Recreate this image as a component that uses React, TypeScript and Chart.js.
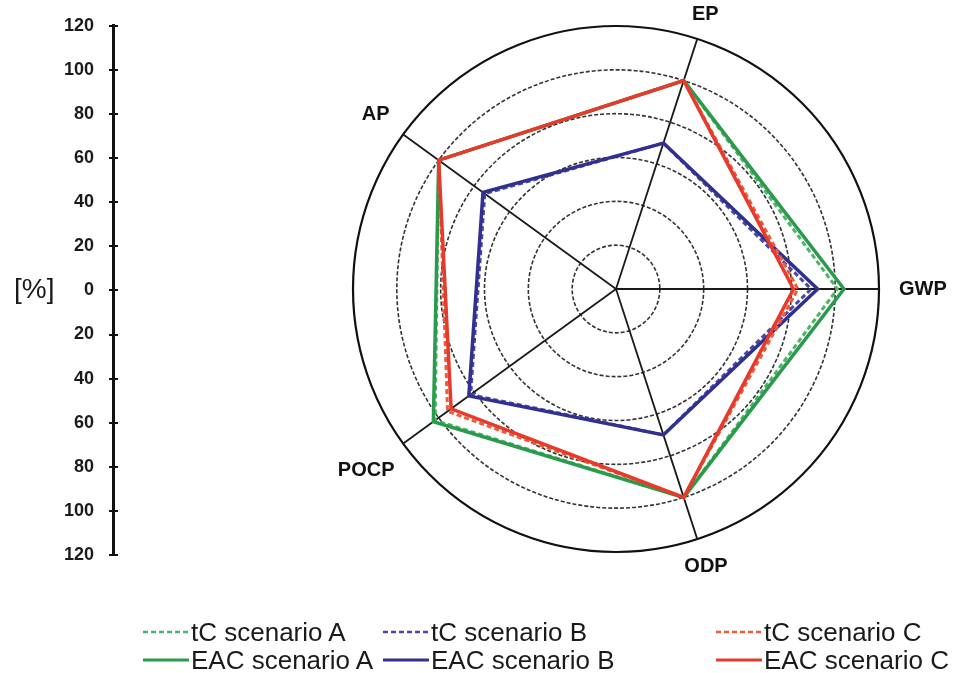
import React, { useEffect, useRef } from 'react';
import { Chart, registerables } from 'chart.js';

Chart.register(...registerables);

// ---- data ----
const categories = ['EP', 'GWP', 'ODP', 'POCP', 'AP'];
const tcScenarioA = [100, 101, 100, 102, 100];
const tcScenarioB = [70, 89, 70, 82, 74];
const tcScenarioC = [100, 83, 100, 95, 100];
const eacScenarioA = [100, 104, 100, 103, 100];
const eacScenarioB = [70, 92, 70, 83, 75];
const eacScenarioC = [100, 81, 100, 93, 100];
const seriesLabels = ['tC scenario A', 'tC scenario B', 'tC scenario C', 'EAC scenario A', 'EAC scenario B', 'EAC scenario C'];
const rMax = 120;
const rStep = 20;
const sideAxisMin = -120;
const sideAxisMax = 120;
const sideAxisStep = 20;
const unitLabel = '[%]';

const FONT = '"Liberation Sans", Arial, Helvetica, sans-serif';

const seriesStyles = [
  { color: '#4cb56a', dashed: true, order: 5 },
  { color: '#4a48a6', dashed: true, order: 3 },
  { color: '#ee5b3c', dashed: true, order: 1 },
  { color: '#2a9a4c', dashed: false, order: 4 },
  { color: '#30308f', dashed: false, order: 2 },
  { color: '#e83a2a', dashed: false, order: 0 },
];
const seriesValues = [tcScenarioA, tcScenarioB, tcScenarioC, eacScenarioA, eacScenarioB, eacScenarioC];

const pointLabelPlugin = {
  id: 'customPointLabels',
  afterDatasetsDraw(chart: any) {
    const scale = chart.scales.r;
    const ctx = chart.ctx;
    ctx.save();
    ctx.font = `bold 20px ${FONT}`;
    ctx.fillStyle = '#111';
    ctx.textAlign = 'center';
    ctx.textBaseline = 'middle';
    const labels: string[] = chart.data.labels;
    labels.forEach((label, i) => {
      const angle = scale.getIndexAngle(i);
      const w = ctx.measureText(label).width;
      const h = 15;
      const d = scale.drawingArea + 12 + Math.abs(Math.sin(angle)) * (w / 2 + 8) + Math.abs(Math.cos(angle)) * h / 2;
      const p = scale.getPointPosition(i, d);
      ctx.fillText(label, p.x, p.y);
    });
    ctx.restore();
  },
};

export default function App() {
  const radarRef = useRef<HTMLCanvasElement | null>(null);
  const axisRef = useRef<HTMLCanvasElement | null>(null);

  useEffect(() => {
    const radar = new Chart(radarRef.current as HTMLCanvasElement, {
      type: 'radar',
      data: {
        labels: categories,
        datasets: seriesValues.map((vals, i) => ({
          label: seriesLabels[i],
          data: vals,
          borderColor: seriesStyles[i].color,
          backgroundColor: 'transparent',
          borderWidth: seriesStyles[i].dashed ? 3 : 3.5,
          borderDash: seriesStyles[i].dashed ? [5, 3] : [],
          pointRadius: 0,
          pointHoverRadius: 0,
          fill: false,
          tension: 0,
          order: seriesStyles[i].order,
        })),
      },
      options: {
        animation: false,
        responsive: false,
        maintainAspectRatio: false,
        layout: { padding: { left: 353, top: 26, right: 91, bottom: 121 } },
        plugins: { legend: { display: false }, tooltip: { enabled: false } },
        scales: {
          r: {
            min: 0,
            max: rMax,
            startAngle: 18,
            ticks: { display: false, stepSize: rStep },
            pointLabels: { display: false },
            angleLines: { color: '#1a1a1a', lineWidth: 1.8 },
            grid: {
              circular: true,
              color: (c: any) => (c.tick && c.tick.value === rMax ? '#111' : '#333'),
              lineWidth: (c: any) => (c.tick && c.tick.value === rMax ? 2.2 : 1.6),
            },
            border: {
              dash: (c: any) => (c.tick && c.tick.value === rMax ? [] : [4, 2]),
            },
          } as any,
        },
      },
      plugins: [pointLabelPlugin],
    });

    const axis = new Chart(axisRef.current as HTMLCanvasElement, {
      type: 'line',
      data: { labels: [''], datasets: [{ data: [] }] },
      options: {
        animation: false,
        responsive: false,
        maintainAspectRatio: false,
        layout: { padding: { left: 0, top: 25, right: 140 - 118, bottom: 673 - 555 } },
        plugins: { legend: { display: false }, tooltip: { enabled: false } },
        scales: {
          x: { display: false },
          y: {
            min: sideAxisMin,
            max: sideAxisMax,
            afterFit: (s: any) => { s.width = 113; },
            ticks: {
              stepSize: sideAxisStep,
              callback: (v: any) => String(Math.abs(Number(v))),
              font: { family: FONT, size: 18, weight: 'bold' },
              color: '#1a1a1a',
              padding: 15,
            },
            grid: { color: '#111', lineWidth: 2, tickLength: 4, drawOnChartArea: true },
            border: { color: '#111', width: 3 },
          } as any,
        },
      },
    });

    return () => {
      radar.destroy();
      axis.destroy();
    };
  }, []);

  const cols = [143, 383, 716];
  const rows = [632, 660];

  return (
    <div style={{ position: 'absolute', left: 0, top: 0, width: 970, height: 673, background: '#fff', overflow: 'hidden' }}>
      <canvas ref={radarRef} width={970} height={673} style={{ position: 'absolute', left: 0, top: 0, width: 970, height: 673 }} />
      <canvas ref={axisRef} width={140} height={673} style={{ position: 'absolute', left: 0, top: 0, width: 140, height: 673 }} />
      <div style={{ position: 'absolute', left: 14, top: 273, font: `28px ${FONT}`, lineHeight: '32px', color: '#1a1a1a' }}>{unitLabel}</div>
      {seriesLabels.map((lbl, i) => {
        const col = i % 3;
        const row = Math.floor(i / 3);
        const st = seriesStyles[i];
        return (
          <div key={lbl} style={{ position: 'absolute', left: cols[col], top: rows[row] - 15, height: 30, display: 'flex', alignItems: 'center', whiteSpace: 'nowrap' }}>
            <svg width={46} height={6} style={{ display: 'block' }}>
              <line x1={0} y1={3} x2={46} y2={3} stroke={st.color} strokeWidth={st.dashed ? 2.5 : 3} strokeDasharray={st.dashed ? '5 3' : undefined} />
            </svg>
            <span style={{ marginLeft: 2, font: `26px ${FONT}`, lineHeight: '30px', color: '#1a1a1a' }}>{lbl}</span>
          </div>
        );
      })}
    </div>
  );
}
